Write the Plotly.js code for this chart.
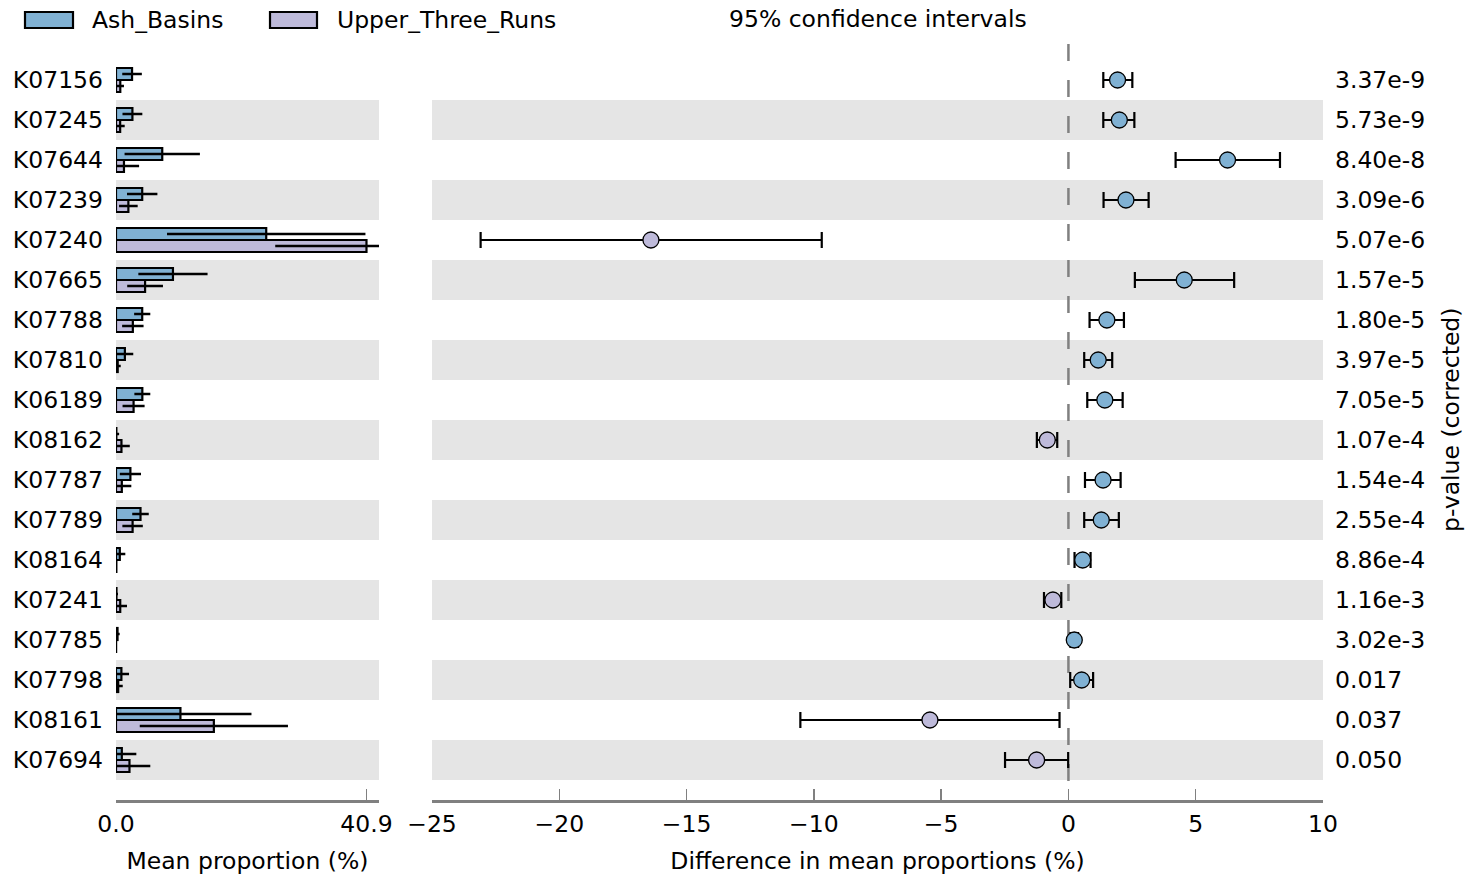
<!DOCTYPE html>
<html>
<head>
<meta charset="utf-8">
<script src="https://cdn.plot.ly/plotly-3.0.1.min.js"></script>
<style>
  html, body { margin: 0; padding: 0; background: #fff; }
  #chart { width: 1465px; height: 877px; }
</style>
</head>
<body>
<div id="chart"></div>
<script>
// KEGG orthologs compared between the two sites (top row first)
const categories = ['K07156','K07245','K07644','K07239','K07240','K07665','K07788','K07810','K06189',
                    'K08162','K07787','K07789','K08164','K07241','K07785','K07798','K08161','K07694'];

// Mean proportion (%) and standard deviation per group
const ashMean = [2.62, 2.68, 7.55, 4.28, 24.53, 9.30, 4.28, 1.45, 4.30, 0.06, 2.35, 4.00, 0.62, 0.08, 0.25, 0.88, 10.52, 0.95];
const ashSd   = [1.60, 1.62, 6.15, 2.48, 16.20, 5.65, 1.32, 1.37, 1.30, 0.45, 1.73, 1.35, 0.90, 0.25, 0.35, 1.25, 11.60, 2.37];
const utrMean = [0.70, 0.68, 1.30, 2.02, 40.90, 4.75, 2.75, 0.28, 2.87, 0.89, 0.95, 2.71, 0.06, 0.69, 0.02, 0.36, 15.98, 2.20];
const utrSd   = [0.60, 0.74, 2.47, 1.52, 14.90, 2.92, 1.75, 0.49, 1.80, 1.36, 1.55, 1.67, 0.10, 1.11, 0.05, 0.74, 12.10, 3.40];

// Difference in mean proportions (%) with its 95% confidence interval
const diff   = [1.93, 2.00, 6.25, 2.26, -16.40, 4.55, 1.51, 1.17, 1.43, -0.83, 1.36, 1.29, 0.56, -0.61, 0.23, 0.52, -5.44, -1.25];
const ciLow  = [1.37, 1.37, 4.21, 1.38, -23.09, 2.61, 0.83, 0.62, 0.74, -1.24, 0.65, 0.62, 0.24, -0.96, 0.08, 0.07, -10.53, -2.49];
const ciHigh = [2.51, 2.59, 8.31, 3.15, -9.69, 6.51, 2.18, 1.72, 2.13, -0.44, 2.05, 1.98, 0.87, -0.28, 0.38, 0.97, -0.35, -0.01];

// Corrected p-values
const pValues = ['3.37e-9','5.73e-9','8.40e-8','3.09e-6','5.07e-6','1.57e-5','1.80e-5','3.97e-5','7.05e-5',
                 '1.07e-4','1.54e-4','2.55e-4','8.86e-4','1.16e-3','3.02e-3','0.017','0.037','0.050'];

const groupNames = ['Ash_Basins', 'Upper_Three_Runs'];
const groupColors = ['#80b1d3', '#bebada'];

// Mean proportion axis tick labels
const meanTickVals = [0, 40.9];
const meanTickText = ['0.0', '40.9'];

const rows = categories.map((_, i) => i);
const FONT = 'DejaVu Sans, Verdana, sans-serif';
const FS = 23.5;
const AXIS_GREY = '#808080';

const traces = [
  {
    type: 'bar', orientation: 'h', name: groupNames[0],
    x: ashMean, y: rows, xaxis: 'x', yaxis: 'y',
    offset: -0.3, width: 0.3,
    marker: { color: groupColors[0], line: { color: '#000', width: 2.2 } },
    error_x: { type: 'data', array: ashSd, visible: true, color: '#000', thickness: 2.5, width: 0 },
    hoverinfo: 'x+y'
  },
  {
    type: 'bar', orientation: 'h', name: groupNames[1],
    x: utrMean, y: rows, xaxis: 'x', yaxis: 'y',
    offset: 0, width: 0.3,
    marker: { color: groupColors[1], line: { color: '#000', width: 2.2 } },
    error_x: { type: 'data', array: utrSd, visible: true, color: '#000', thickness: 2.5, width: 0 },
    hoverinfo: 'x+y'
  },
  {
    type: 'scatter', mode: 'markers', name: 'difference',
    x: diff, y: rows, xaxis: 'x2', yaxis: 'y',
    marker: {
      size: 16,
      color: diff.map(d => d >= 0 ? groupColors[0] : groupColors[1]),
      line: { color: '#000', width: 1.3 }
    },
    error_x: {
      type: 'data', symmetric: false, visible: true,
      array: ciHigh.map((h, i) => h - diff[i]),
      arrayminus: ciLow.map((l, i) => diff[i] - l),
      color: '#000', thickness: 2.2, width: 8
    },
    hoverinfo: 'x+y'
  }
];

// Alternating row bands behind both panels
const shapes = [];
rows.forEach(i => {
  if (i % 2 === 1) {
    ['x domain', 'x2 domain'].forEach(xr => {
      shapes.push({
        type: 'rect', layer: 'below', xref: xr, x0: 0, x1: 1,
        yref: 'y', y0: i - 0.5, y1: i + 0.5,
        fillcolor: '#e5e5e5', line: { width: 0 }
      });
    });
  }
});
// Zero-difference reference line
shapes.push({
  type: 'line', layer: 'below', xref: 'x2', x0: 0, x1: 0, yref: 'paper', y0: 1, y1: 0,
  line: { color: AXIS_GREY, width: 2.5, dash: '17px,19px' }
});

// Legend swatches
const W = 1465, H = 877, ML = 116, MR = 142, MT = 44, MB = 77;
const PW = W - ML - MR, PH = H - MT - MB;
const px = v => (v - ML) / PW;
const py = v => (H - MB - v) / PH;
const legendBoxes = [[25, 73], [270, 317]];
legendBoxes.forEach((b, k) => {
  shapes.push({
    type: 'rect', xref: 'paper', yref: 'paper',
    x0: px(b[0]), x1: px(b[1]), y0: py(28), y1: py(12),
    fillcolor: groupColors[k], line: { color: '#000', width: 2.2 }
  });
});

const annotations = [];
const legendTextX = [90, 335];
groupNames.forEach((g, k) => {
  annotations.push({
    text: g, xref: 'paper', yref: 'paper', x: px(legendTextX[k]), y: py(20),
    xanchor: 'left', yanchor: 'middle', showarrow: false,
    font: { family: FONT, size: FS, color: '#000' }
  });
});
annotations.push({
  text: '95% confidence intervals', xref: 'x2 domain', yref: 'paper', x: 0.5, y: py(19),
  xanchor: 'center', yanchor: 'middle', showarrow: false,
  font: { family: FONT, size: FS, color: '#000' }
});
pValues.forEach((p, i) => {
  annotations.push({
    text: p, xref: 'x2 domain', yref: 'y', x: 1, y: i, xshift: 10,
    xanchor: 'left', yanchor: 'middle', showarrow: false,
    font: { family: FONT, size: FS, color: '#000' }
  });
});
annotations.push({
  text: 'p-value (corrected)', xref: 'paper', yref: 'paper', x: px(1451), y: py(420),
  xanchor: 'center', yanchor: 'middle', textangle: -90, showarrow: false,
  font: { family: FONT, size: FS, color: '#000' }
});

const xCommon = {
  anchor: 'y', showgrid: false, zeroline: false,
  showline: true, linecolor: AXIS_GREY, linewidth: 2.5,
  ticks: 'inside', ticklen: 11, tickwidth: 1.5, tickcolor: AXIS_GREY,
  tickfont: { family: FONT, size: FS, color: '#000' },
  ticklabelstandoff: 1, fixedrange: true
};

const layout = {
  width: W, height: H,
  margin: { l: ML, r: MR, t: MT, b: MB, pad: 0 },
  paper_bgcolor: '#fff', plot_bgcolor: 'rgba(0,0,0,0)',
  showlegend: false,
  barmode: 'overlay',
  font: { family: FONT, size: FS, color: '#000' },
  xaxis: Object.assign({}, xCommon, {
    domain: [0, 263 / PW], range: [0, 40.9 * 1.05],
    tickmode: 'array', tickvals: meanTickVals, ticktext: meanTickText,
    title: { text: 'Mean proportion (%)', font: { family: FONT, size: FS, color: '#000' }, standoff: 16 }
  }),
  xaxis2: Object.assign({}, xCommon, {
    domain: [316 / PW, 1], range: [-25, 10],
    tickmode: 'linear', tick0: 0, dtick: 5,
    title: { text: 'Difference in mean proportions (%)', font: { family: FONT, size: FS, color: '#000' }, standoff: 16 }
  }),
  yaxis: {
    domain: [0, 1], range: [18, -0.9], showgrid: false, zeroline: false, showline: false,
    tickmode: 'array', tickvals: rows, ticktext: categories, ticks: '',
    tickfont: { family: FONT, size: FS, color: '#000' }, ticklabelstandoff: 12, fixedrange: true
  },
  shapes: shapes,
  annotations: annotations
};

Plotly.newPlot('chart', traces, layout, { displayModeBar: false, staticPlot: true });
</script>
</body>
</html>
